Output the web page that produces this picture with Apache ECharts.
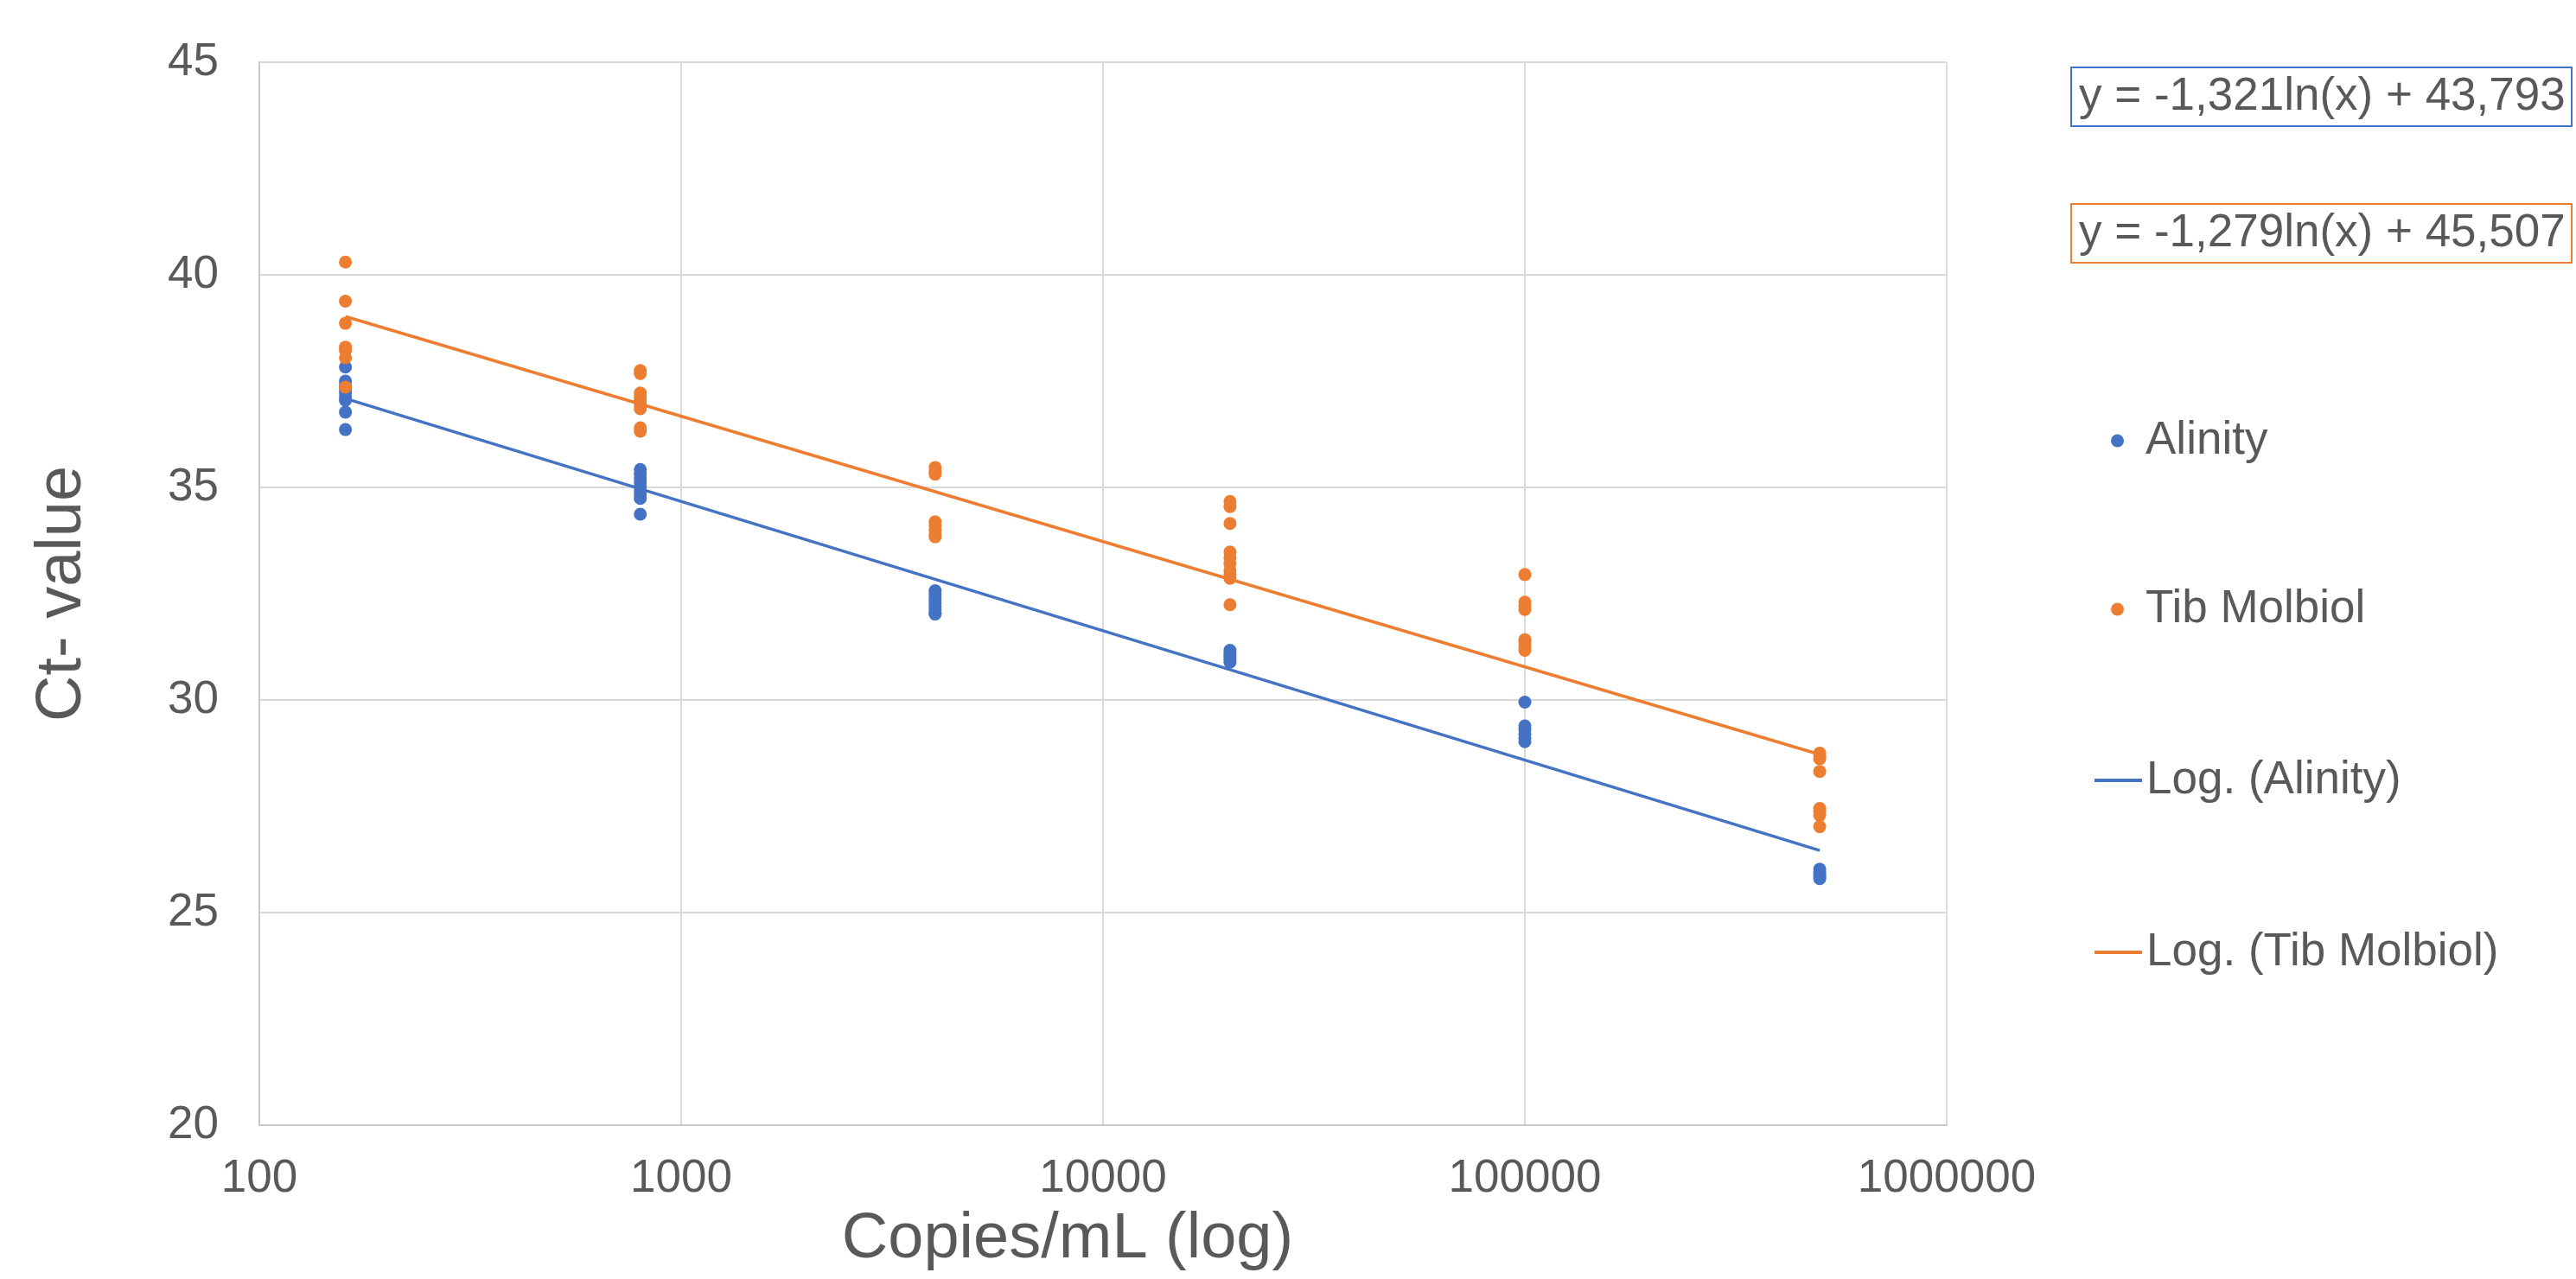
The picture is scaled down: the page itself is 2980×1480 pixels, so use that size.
<!DOCTYPE html>
<html>
<head>
<meta charset="utf-8">
<script src="https://cdn.jsdelivr.net/npm/echarts@6/dist/echarts.min.js"></script>
<style>html,body{margin:0;padding:0;background:#fff}#c{width:2980px;height:1480px}</style>
</head>
<body>
<div id="c"></div>
<script>
// ---- data ----
const concentrations = [160, 800, 4000, 20000, 100000, 500000];
const alinityCt = [
  [37.83, 37.5, 37.4, 37.3, 37.22, 37.12, 37.05, 36.77, 36.36],
  [35.42, 35.32, 35.22, 35.12, 35.02, 34.92, 34.82, 34.74, 34.37],
  [32.57, 32.5, 32.42, 32.35, 32.28, 32.2, 32.12, 32.05, 32.02],
  [31.17, 31.1, 31.05, 31.0, 30.95, 30.89],
  [29.95, 29.39, 29.3, 29.2, 29.1, 29.02],
  [26.02, 25.95, 25.9, 25.85, 25.8]
];
const tibCt = [
  [40.3, 39.38, 38.86, 38.3, 38.22, 38.05, 37.36],
  [37.75, 37.68, 37.22, 37.12, 37.05, 36.95, 36.85, 36.4, 36.32],
  [35.47, 35.38, 35.31, 34.19, 34.1, 34.0, 33.9, 33.84],
  [34.67, 34.55, 34.15, 33.48, 33.35, 33.2, 33.05, 32.95, 32.86, 32.24],
  [32.95, 32.3, 32.2, 32.13, 31.42, 31.35, 31.25, 31.17],
  [28.75, 28.68, 28.62, 28.32, 27.45, 27.38, 27.29, 27.02]
];
const trendX = [160, 500000];
const alinityTrend = [37.09, 26.46];
const tibTrend = [39.02, 28.72];
const seriesNames = ['Alinity', 'Tib Molbiol', 'Log. (Alinity)', 'Log. (Tib Molbiol)'];
const equations = ['y = -1,321ln(x) + 43,793', 'y = -1,279ln(x) + 45,507'];
const xTickLabels = ['100', '1000', '10000', '100000', '1000000'];
const yTicks = [20, 25, 30, 35, 40, 45];
const xAxisTitle = 'Copies/mL (log)';
const yAxisTitle = 'Ct- value';

// ---- build ----
const BLUE = '#4472C4', ORANGE = '#ED7D31', TXT = '#595959', GRID = '#D9D9D9';
const FONT = '"Liberation Sans", Arial, sans-serif';
function pairs(xs, groups) {
  const out = [];
  groups.forEach((g, i) => g.forEach(v => out.push([xs[i], v])));
  return out;
}
function line(xs, ys) { return xs.map((x, i) => [x, ys[i]]); }

const chart = echarts.init(document.getElementById('c'), null, {renderer: 'canvas'});
const legendTops = [510, 705, 903, 1102];
const legends = seriesNames.map((n, i) => ({
  data: [{name: n, icon: i < 2 ? 'circle' : 'rect'}],
  left: i < 2 ? 2442 : 2423,
  top: legendTops[i] - 30,
  padding: 0,
  itemWidth: 55,
  itemHeight: i < 2 ? 15 : 4,
  selectedMode: false,
  textStyle: {fontFamily: FONT, fontSize: 53, color: TXT, lineHeight: 60}
}));

chart.setOption({
  animation: false,
  backgroundColor: '#fff',
  title: equations.map((t, i) => ({
    text: t,
    left: 2396,
    top: i === 0 ? 78 : 236,
    padding: [4, 8, 4, 9],
    borderWidth: 2,
    borderColor: i === 0 ? BLUE : ORANGE,
    textStyle: {fontFamily: FONT, fontSize: 53, fontWeight: 'normal', color: TXT, lineHeight: 60}
  })),
  legend: legends,
  grid: {left: 300, right: 728, top: 72, bottom: 178, containLabel: false},
  xAxis: {
    type: 'log', logBase: 10, min: 100, max: 1000000, interval: 1,
    name: xAxisTitle, nameLocation: 'middle', nameGap: 96,
    nameTextStyle: {fontFamily: FONT, fontSize: 74, color: TXT, padding: [0, 82, 0, 0]},
    axisLine: {show: true, lineStyle: {color: '#C8C8C8', width: 2}},
    axisTick: {show: false},
    axisLabel: {
      fontFamily: FONT, fontSize: 53, color: TXT, margin: 36,
      formatter: v => xTickLabels[Math.round(Math.log10(v)) - 2] || ''
    },
    splitLine: {show: true, lineStyle: {color: GRID, width: 2}},
    minorSplitLine: {show: false}
  },
  yAxis: {
    type: 'value', min: yTicks[0], max: yTicks[yTicks.length - 1], interval: 5,
    name: yAxisTitle, nameLocation: 'middle', nameGap: 190, nameRotate: 90,
    nameTextStyle: {fontFamily: FONT, fontSize: 74, color: TXT},
    axisLine: {show: true, lineStyle: {color: '#C8C8C8', width: 2}},
    axisTick: {show: false},
    axisLabel: {fontFamily: FONT, fontSize: 53, color: TXT, margin: 47},
    splitLine: {show: true, lineStyle: {color: GRID, width: 2}}
  },
  series: [
    {name: seriesNames[0], type: 'scatter', symbol: 'circle', symbolSize: 15,
     itemStyle: {color: BLUE, opacity: 1}, data: pairs(concentrations, alinityCt), z: 2},
    {name: seriesNames[1], type: 'scatter', symbol: 'circle', symbolSize: 15,
     itemStyle: {color: ORANGE, opacity: 1}, data: pairs(concentrations, tibCt), z: 3},
    {name: seriesNames[2], type: 'line', showSymbol: false, symbol: 'none',
     lineStyle: {color: BLUE, width: 3.5}, itemStyle: {color: BLUE},
     data: line(trendX, alinityTrend), z: 4},
    {name: seriesNames[3], type: 'line', showSymbol: false, symbol: 'none',
     lineStyle: {color: ORANGE, width: 3.5}, itemStyle: {color: ORANGE},
     data: line(trendX, tibTrend), z: 5}
  ]
});
</script>
</body>
</html>
